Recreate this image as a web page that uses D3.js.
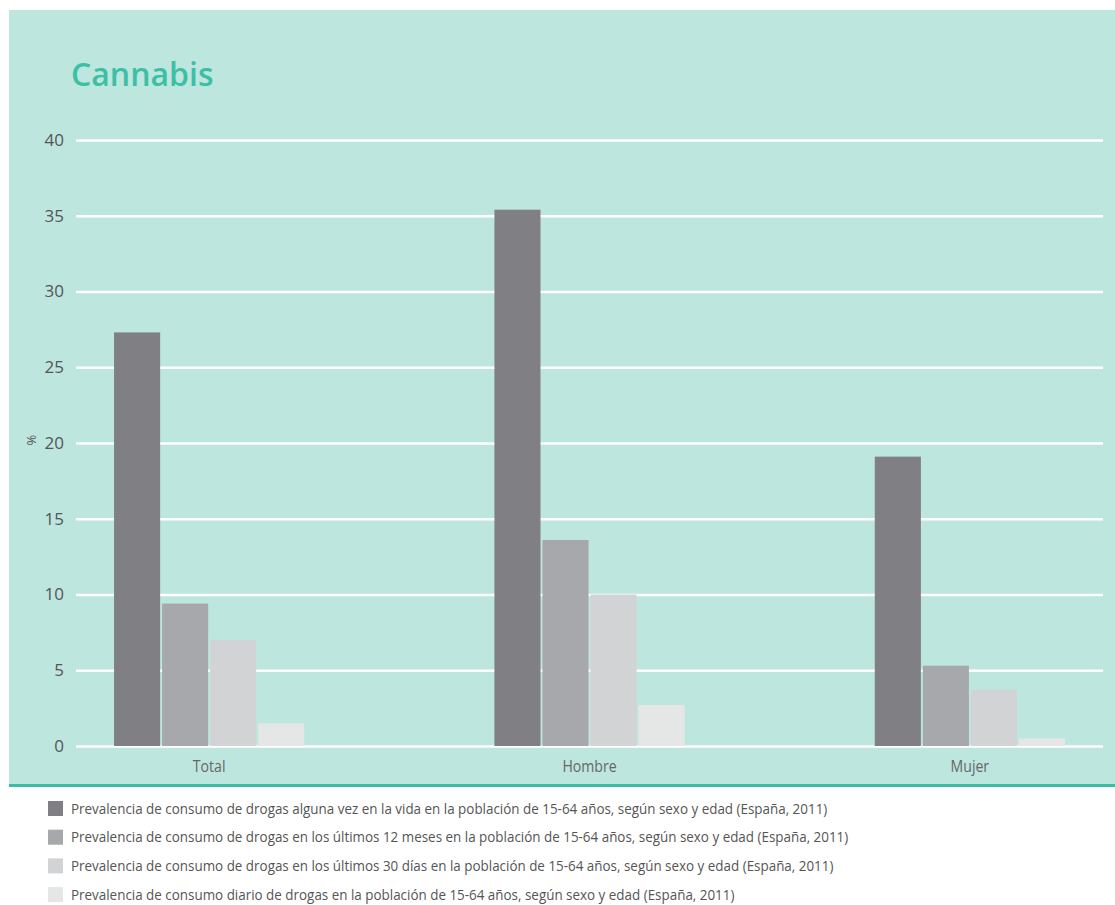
<!DOCTYPE html>
<html>
<head>
<meta charset="utf-8">
<script src="https://cdn.jsdelivr.net/npm/d3@7"></script>
<style>
  body { margin: 0; background: #fff; }
  svg { display: block; font-family: 'Open Sans', sans-serif; }
</style>
</head>
<body>
<div id="chart"></div>
<script>
// categories and series
var categories = ['Total', 'Hombre', 'Mujer'];
var seriesNames = [
  'Prevalencia de consumo de drogas alguna vez en la vida en la población de 15-64 años, según sexo y edad (España, 2011)',
  'Prevalencia de consumo de drogas en los últimos 12 meses en la población de 15-64 años, según sexo y edad (España, 2011)',
  'Prevalencia de consumo de drogas en los últimos 30 días en la población de 15-64 años, según sexo y edad (España, 2011)',
  'Prevalencia de consumo diario de drogas en la población de 15-64 años, según sexo y edad (España, 2011)'
];
var vidaValues = [27.3, 35.4, 19.1];
var mesesValues = [9.4, 13.6, 5.3];
var diasValues = [7.0, 10.0, 3.7];
var diarioValues = [1.5, 2.7, 0.5];
var yTicks = [0, 5, 10, 15, 20, 25, 30, 35, 40];
var colors = ['#808084', '#a7a8ab', '#d2d3d4', '#e5e7e6'];

var allSeries = [vidaValues, mesesValues, diasValues, diarioValues];

var WIDTH = 1115, HEIGHT = 905;
var plotLeft = 76, plotRight = 1103, plotTop = 140, plotBottom = 746;

var svg = d3.select('#chart').append('svg')
  .attr('width', WIDTH)
  .attr('height', HEIGHT);

// panel background
svg.append('rect')
  .attr('x', 9).attr('y', 10)
  .attr('width', WIDTH - 9).attr('height', 775)
  .attr('fill', '#bde6de');
svg.append('rect')
  .attr('x', 9).attr('y', 784)
  .attr('width', WIDTH - 9).attr('height', 3)
  .attr('fill', '#3dbca5');

svg.append('text')
  .attr('x', 71).attr('y', 86)
  .attr('fill', '#3dbfa6')
  .attr('font-size', '32px')
  .attr('font-weight', 600)
  .text('Cannabis');

var x0 = d3.scaleBand().domain(categories).range([plotLeft, plotRight])
  .paddingInner(0.5).paddingOuter(0.1);
var x1 = d3.scaleBand().domain(d3.range(seriesNames.length))
  .range([0, x0.bandwidth()]).paddingInner(0.04);
var y = d3.scaleLinear().domain([0, 40]).range([plotBottom, plotTop]);

// gridlines + y labels
var yAxis = d3.axisLeft(y).tickValues(yTicks).tickSize(-(plotRight - plotLeft)).tickPadding(12);
var gy = svg.append('g').attr('transform', 'translate(' + plotLeft + ',0)').call(yAxis);
gy.select('.domain').remove();
gy.selectAll('.tick line').attr('stroke', '#fff').attr('stroke-width', 2.6);
gy.selectAll('.tick text')
  .attr('fill', '#555')
  .attr('font-size', '17px')
  .attr('font-family', 'Open Sans, sans-serif');

svg.append('text')
  .attr('transform', 'translate(36,440) rotate(-90)')
  .attr('text-anchor', 'middle')
  .attr('fill', '#555')
  .attr('font-size', '13px')
  .text('%');

// bars
var groups = svg.selectAll('.group')
  .data(categories)
  .enter().append('g')
  .attr('class', 'group')
  .attr('transform', function(d) { return 'translate(' + x0(d) + ',0)'; });

groups.selectAll('rect')
  .data(function(d, i) {
    return allSeries.map(function(s, k) { return { k: k, v: s[i] }; });
  })
  .enter().append('rect')
  .attr('x', function(d) { return x1(d.k); })
  .attr('width', x1.bandwidth())
  .attr('y', function(d) { return y(d.v); })
  .attr('height', function(d) { return plotBottom - y(d.v); })
  .attr('fill', function(d) { return colors[d.k]; });

// condensed look: squeeze text horizontally
function condense(sel, f) {
  sel.each(function() {
    var w = this.getComputedTextLength();
    d3.select(this).attr('textLength', w * f).attr('lengthAdjust', 'spacingAndGlyphs');
  });
}

// category labels
svg.selectAll('.xlabel')
  .data(categories)
  .enter().append('text')
  .attr('class', 'xlabel')
  .attr('x', function(d) { return x0(d) + x0.bandwidth() / 2; })
  .attr('y', 772)
  .attr('text-anchor', 'middle')
  .attr('fill', '#666')
  .attr('font-size', '16px')
  .text(function(d) { return d; })
  .call(condense, 0.88);

// legend
var legend = svg.selectAll('.legend')
  .data(seriesNames)
  .enter().append('g')
  .attr('class', 'legend')
  .attr('transform', function(d, i) { return 'translate(48,' + (801 + i * 28.7) + ')'; });

legend.append('rect')
  .attr('width', 15).attr('height', 15)
  .attr('fill', function(d, i) { return colors[i]; });

legend.append('text')
  .attr('x', 23).attr('y', 12.5)
  .attr('fill', '#555')
  .attr('font-size', '14.5px')
  .text(function(d) { return d; })
  .call(condense, 0.925);
</script>
</body>
</html>
